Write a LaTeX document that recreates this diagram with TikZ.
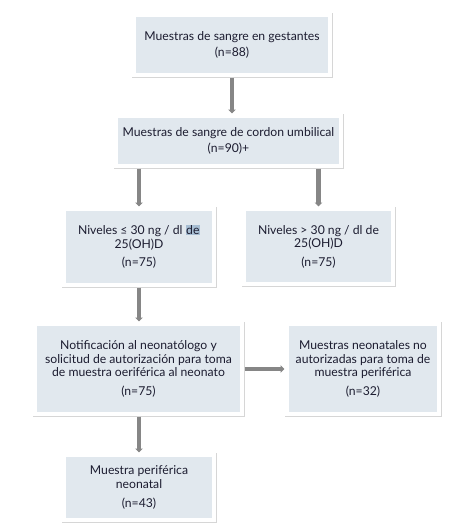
\documentclass[tikz,border=0pt]{standalone}
\usepackage{fontspec}
\setmainfont{Lato}
\usetikzlibrary{arrows.meta}
\definecolor{boxfill}{HTML}{E1E8EE}
\definecolor{framegray}{HTML}{D6D6D6}
\definecolor{arrowgray}{HTML}{868686}
\definecolor{textdark}{HTML}{1C1C30}
\definecolor{selblue}{HTML}{A7BED3}
\tikzstyle{flowbox} = [fill=boxfill, draw=white, line width=4pt,
    preaction={draw=framegray, line width=5pt},
    rectangle, align=center, inner sep=2pt, outer sep=2.5pt,
    font=\fontsize{12.2}{13.6}\selectfont, text=textdark]
\tikzstyle{grayarrow} = [draw=arrowgray, line width=4.5pt,
    -{Triangle[width=7.5pt,length=4pt]}]

\begin{document}
\begin{tikzpicture}
    \useasboundingbox (0,0) rectangle (452pt,-528pt);
    \node [flowbox, minimum width=196pt, minimum height=60pt] (gest) at (232pt,-45pt)
        {Muestras de sangre en gestantes\\[2.5pt](n=88)};
    \node [flowbox, minimum width=225pt, minimum height=50pt] (cordon) at (228.5pt,-141pt)
        {Muestras de sangre de cordon umbilical\\[2.5pt](n=90)+};
    \node [flowbox, minimum width=150pt, minimum height=76pt] (bajos) at (139pt,-247pt)
        {Niveles ≤ 30 ng / dl {\setlength\fboxsep{0.5pt}\colorbox{selblue}{de}}\\25(OH)D\\[5pt](n=75)};
    \node [flowbox, minimum width=149pt, minimum height=75pt] (altos) at (318.5pt,-246.5pt)
        {Niveles > 30 ng / dl de\\25(OH)D\\[5pt](n=75)};
    \node [flowbox, minimum width=207pt, minimum height=90pt] (notif) at (138.5pt,-369pt)
        {Notificación al neonatólogo y\\solicitud de autorización para toma\\de muestra oeriférica al neonato\\[5pt](n=75)};
    \node [flowbox, minimum width=152pt, minimum height=90pt] (noaut) at (363pt,-369pt)
        {Muestras neonatales no\\autorizadas para toma de\\muestra periférica\\[5pt](n=32)};
    \node [flowbox, minimum width=150pt, minimum height=65pt] (perif) at (139pt,-487.5pt)
        {Muestra periférica\\neonatal\\[5pt](n=43)};

    \draw [grayarrow] (gest) -- (gest |- cordon.north);
    \draw [grayarrow] (bajos.north |- cordon.south) -- (bajos.north);
    \draw [grayarrow] (altos.north |- cordon.south) -- (altos.north);
    \draw [grayarrow] (bajos) -- (notif.north -| bajos);
    \draw [grayarrow] (notif.east) -- (noaut.west);
    \draw [grayarrow] (perif.north |- notif.south) -- (perif.north);
\end{tikzpicture}
\end{document}
